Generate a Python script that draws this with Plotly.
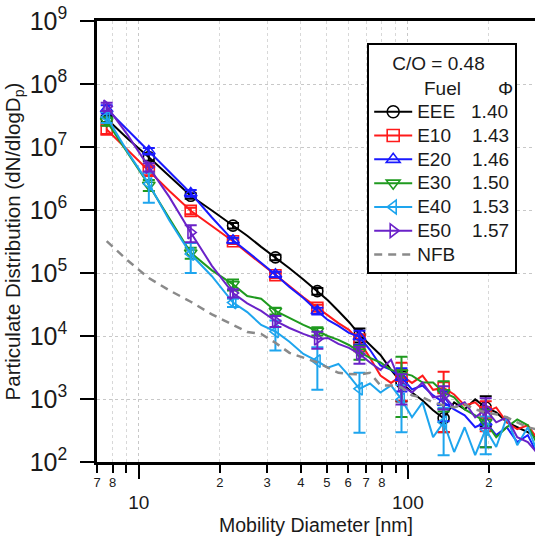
import plotly.graph_objects as go

# ---------------- data ----------------
diameter_nm = [7.6, 9.1, 10.9, 13.0, 15.6, 18.7, 22.4, 25.3, 28.5, 32.2, 36.3, 40.9,
               46.1, 50.4, 55.2, 60.4, 66.1, 72.3, 79.1, 86.6, 94.7, 103.6, 113.4,
               124.1, 135.8, 148.6, 162.6, 177.9, 194.7, 213.0, 233.1, 255.0, 279.1, 300.0]
marker_idx = [0, 2, 4, 6, 9, 12, 16, 20, 24, 28]

eee = [2.8e7, 1.35e7, 6.9e6, 3.4e6, 1.68e6, 9.8e5, 5.65e5, 3.9e5, 2.6e5, 1.77e5,
       1.19e5, 7.9e4, 5.15e4, 3.7e4, 2.5e4, 1.67e4, 1.05e4, 7.2e3, 5.0e3, 2.9e3,
       1.82e3, 1.27e3, 950, 661, 494, 884, 685, 985, 736, 614, 427, 356, 297, 248]
e10 = [1.9e7, 8.9e6, 4.2e6, 2.0e6, 9.7e5, 5.5e5, 3.2e5, 2.1e5, 1.42e5, 9.2e4,
       6.2e4, 4.1e4, 2.8e4, 2.1e4, 1.6e4, 1.25e4, 8.2e3, 4.5e3, 2.35e3, 1.8e3,
       2.35e3, 1.8e3, 2.35e3, 1.4e3, 1.5e3, 1.18e3, 793, 884, 614, 736, 427, 331, 383, 248]
e20 = [4.0e7, 1.85e7, 8.6e6, 4.0e6, 1.85e6, 7.6e5, 3.3e5, 2.2e5, 1.45e5, 9.5e4,
       6.0e4, 4.0e4, 2.5e4, 1.8e4, 1.45e4, 1.12e4, 9.7e3, 6.05e3, 3.4e3, 2.9e3,
       2.2e3, 1.42e3, 1.64e3, 1.14e3, 884, 685, 551, 356, 427, 267, 356, 207, 267, 144]
e30 = [2.56e7, 8.0e6, 2.5e6, 7.3e5, 2.1e5, 1.1e5, 6.6e4, 4.3e4, 3.9e4, 2.5e4,
       1.93e4, 1.5e4, 1.2e4, 1.0e4, 8.7e3, 7.2e3, 5.6e3, 4.5e3, 3.8e3, 2.9e3,
       2.6e3, 2.35e3, 1.82e3, 1.82e3, 1.27e3, 1.06e3, 685, 551, 427, 248, 356, 473, 383, 207]
e40 = [3.0e7, 8.3e6, 2.6e6, 6.8e5, 2.0e5, 8.9e4, 3.4e4, 2.4e4, 1.5e4, 1.18e4,
       8.1e3, 5.2e3, 4.0e3, 3.15e3, 3.6e3, 2.35e3, 1.45e3, 1.76e3, 1.27e3, 1.64e3,
       985, 513, 884, 248, 427, 144, 356, 129, 331, 173, 513, 185, 356, 160]
e50 = [4.4e7, 1.54e7, 4.8e6, 1.6e6, 4.4e5, 1.3e5, 4.8e4, 3.3e4, 2.5e4, 1.73e4,
       1.34e4, 1.08e4, 9.0e3, 9.3e3, 7.5e3, 6.5e3, 5.2e3, 3.8e3, 2.9e3, 4.2e3,
       1.64e3, 1.27e3, 1.82e3, 1.06e3, 1.14e3, 736, 884, 513, 685, 427, 513, 248, 207, 144]
nfb = [3.2e5, 1.58e5, 8.3e4, 5.3e4, 3.5e4, 2.2e4, 1.5e4, 1.16e4, 1.08e4, 7.8e3,
       5.4e3, 4.5e3, 3.8e3, 3.15e3, 2.6e3, 2.5e3, 2.45e3, 2.6e3, 1.64e3, 1.64e3,
       1.52e3, 1.14e3, 1.06e3, 884, 793, 736, 822, 685, 614, 571, 513, 427, 356, 331]

# relative (fractional) error at the marker points
eee_err = [0.12, 0.12, 0.1, 0.1, 0.1, 0.12, 0.25, 0.5, 0.4, 0.5]
e10_err = [0.15, 0.15, 0.12, 0.1, 0.1, 0.12, 0.3, 0.6, 0.8, 0.5]
e20_err = [0.15, 0.12, 0.12, 0.1, 0.1, 0.12, 0.25, 0.4, 0.5, 0.6]
e30_err = [0.15, 0.2, 0.2, 0.2, 0.12, 0.15, 0.25, 0.8, 0.5, 0.6]
e40_err = [0.2, 0.5, 0.5, 0.15, 0.5, 0.65, 0.8, 0.7, 0.7, 0.6]
e50_err = [0.15, 0.15, 0.3, 0.15, 0.2, 0.3, 0.3, 0.5, 0.4, 0.5]

fuels = ["EEE", "E10", "E20", "E30", "E40", "E50"]
phis = ["1.40", "1.43", "1.46", "1.50", "1.53", "1.57"]

major_ticks = [10, 100]
major_text = ["10", "100"]
minor_ticks = [7, 8, 9, 20, 30, 40, 50, 60, 70, 80, 90, 200, 300]
minor_text = ["7", "8", "", "2", "3", "4", "5", "6", "7", "8", "", "2", "3"]

# ---------------- styling ----------------
FONT = "Liberation Sans, Arial, sans-serif"
TXT = "#1a1a1a"
styles = [
    ("#000000", "circle-open", eee, eee_err),
    ("#ff1a1a", "square-open", e10, e10_err),
    ("#1a1aff", "triangle-up-open", e20, e20_err),
    ("#1f9a1f", "triangle-down-open", e30, e30_err),
    ("#1ea5ee", "triangle-left-open", e40, e40_err),
    ("#6a22c8", "triangle-right-open", e50, e50_err),
]
pads = [3, 4, 4, 4, 4, 4]
NB = "\u00a0"


def big(s):
    return '<span style="font-size:19px">' + s + '</span>'


fig = go.Figure()
for (color, sym, vals, errs), fuel, phi, pad in zip(styles, fuels, phis, pads):
    fig.add_trace(go.Scatter(x=diameter_nm, y=vals, mode="lines",
                             line=dict(color=color, width=2), showlegend=False,
                             hoverinfo="skip"))
    mx = [diameter_nm[i] for i in marker_idx]
    my = [vals[i] for i in marker_idx]
    ey = [vals[i] * f for i, f in zip(marker_idx, errs)]
    fig.add_trace(go.Scatter(x=mx, y=my, mode="markers",
                             marker=dict(symbol=sym, size=11, color=color,
                                         line=dict(width=1.6, color=color)),
                             error_y=dict(type="data", array=ey, visible=True,
                                          color=color, thickness=2, width=6),
                             showlegend=False))

fig.add_trace(go.Scatter(x=diameter_nm, y=nfb, mode="lines",
                         line=dict(color="#8a8a8a", width=2.5, dash="8px,6px"),
                         showlegend=False, hoverinfo="skip"))

# legend entries
for (color, sym, vals, errs), fuel, phi, pad in zip(styles, fuels, phis, pads):
    fig.add_trace(go.Scatter(x=[None], y=[None], mode="lines+markers",
                             name=big(fuel + NB * pad + phi),
                             line=dict(color=color, width=2),
                             marker=dict(symbol=sym, size=12, color=color,
                                         line=dict(width=1.6, color=color))))
fig.add_trace(go.Scatter(x=[None], y=[None], mode="lines", name=big("NFB"),
                         line=dict(color="#8a8a8a", width=2.5, dash="8px,6px")))

L, T, B = 96.5, 20.5, 74.5
W, H = 535, 537
pw, ph = W - L, H - T - B

fig.update_layout(
    width=W, height=H,
    margin=dict(l=L, r=0, t=T, b=B, pad=0),
    paper_bgcolor="white", plot_bgcolor="white",
    font=dict(family=FONT, color=TXT),
    legend=dict(
        x=(367 - L) / pw, y=(H - B - 43) / ph, xanchor="left", yanchor="top",
        bgcolor="white", bordercolor="#000000", borderwidth=2,
        font=dict(size=16, family=FONT, color=TXT),
        itemwidth=38,
        title=dict(text=NB * 4 + "C/O = 0.48<br>" + NB * 10 + "Fuel" + NB * 7 + "\u03a6",
                   font=dict(size=19, family=FONT, color=TXT), side="top"),
    ),
    xaxis=dict(
        type="log", range=[0.8448, 2.4725],
        tickmode="array", tickvals=major_ticks, ticktext=major_text,
        ticks="outside", ticklen=14, tickwidth=2, tickcolor="#000",
        tickfont=dict(size=19, family=FONT, color=TXT), ticklabelstandoff=7,
        showline=True, linewidth=2.5, linecolor="#000", mirror=True,
        showgrid=True, gridcolor="#c8c8c8", griddash="dot", gridwidth=1,
        minor=dict(tickmode="array", tickvals=minor_ticks, ticks="outside",
                   ticklen=8, tickwidth=2, tickcolor="#000",
                   showgrid=True, gridcolor="#d8d8d8", griddash="dot", gridwidth=1),
        title=dict(text="Mobility Diameter [nm]", font=dict(size=19.5, family=FONT, color=TXT),
                   standoff=7),
        zeroline=False,
    ),
    xaxis2=dict(
        type="log", range=[0.8448, 2.4725], overlaying="x", anchor="y", side="bottom",
        tickmode="array", tickvals=minor_ticks, ticktext=minor_text,
        ticks="", tickfont=dict(size=13, family=FONT, color=TXT), ticklabelstandoff=11,
        showgrid=False, showline=False, zeroline=False,
    ),
    yaxis=dict(
        type="log", range=[2, 9], dtick=1, exponentformat="power",
        ticks="outside", ticklen=14, tickwidth=2, tickcolor="#000",
        tickfont=dict(size=20, family=FONT, color=TXT), ticklabelstandoff=9,
        showline=True, linewidth=2.5, linecolor="#000",
        showgrid=True, gridcolor="#c8c8c8", griddash="dot", gridwidth=1,
        title=dict(text="Particulate Distribution (dN/dlogD<sub>p</sub>)",
                   font=dict(size=20.5, family=FONT, color=TXT), standoff=4),
        zeroline=False,
    ),
)

# dummy trace to activate xaxis2 labels
fig.add_trace(go.Scatter(x=[None], y=[None], xaxis="x2", yaxis="y", showlegend=False,
                         hoverinfo="skip"))

fig.write_html("out.html")
